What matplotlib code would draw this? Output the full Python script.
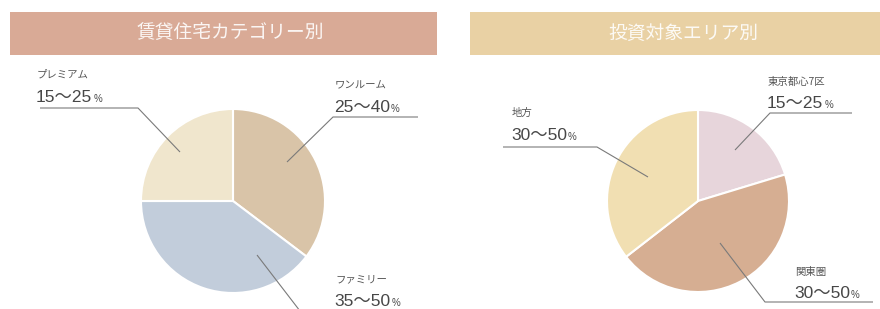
import matplotlib.pyplot as plt
from matplotlib.patches import Rectangle

plt.rcParams['font.family'] = ['Noto Sans CJK JP', 'DejaVu Sans']

W, H = 880, 309

# 賃貸住宅カテゴリー別
cat_title = '賃貸住宅カテゴリー別'
cat_names = ['ワンルーム', 'ファミリー', 'プレミアム']
cat_ranges = ['25〜40', '35〜50', '15〜25']
cat_shares = [35.3, 39.7, 25.0]
cat_colors = ['#d9c4a8', '#c2cddb', '#f0e6cd']

# 投資対象エリア別
area_title = '投資対象エリア別'
area_names = ['東京都心7区', '関東圏', '地方']
area_ranges = ['15〜25', '30〜50', '30〜50']
area_shares = [20.3, 44.2, 35.5]
area_colors = ['#e7d5db', '#d6ae92', '#f1dfb2']

fig = plt.figure(figsize=(W / 100, H / 100), dpi=100)
ax = fig.add_axes([0, 0, 1, 1])

num_font = ['Liberation Sans', 'Noto Sans CJK JP']


def Y(y):
    # pixel row (from top) -> data y
    return H - y


def panel(title, bar, bar_color, title_x, center, radius, shares, colors,
          names, ranges, text_pos, leaders):
    x0, x1, y0, y1 = bar
    ax.add_patch(Rectangle((x0, Y(y1)), x1 - x0, y1 - y0,
                           facecolor=bar_color, edgecolor='none'))
    ax.text(title_x, Y((y0 + y1) / 2), title, color='white', alpha=0.9,
            fontsize=13.5, ha='center', va='center')
    ax.pie(shares, colors=colors, startangle=90, counterclock=False,
           center=(center[0], Y(center[1])), radius=radius,
           wedgeprops=dict(edgecolor='white', linewidth=1.5))
    for name, rng, (tx, ty), pts in zip(names, ranges, text_pos, leaders):
        ax.plot([p[0] for p in pts], [Y(p[1]) for p in pts],
                color='#7a7a7a', lw=0.8, solid_capstyle='butt')
        ax.text(tx, Y(ty), name, fontsize=7.5, color='#555555',
                ha='left', va='center')
        t = ax.text(tx - 1, Y(ty + 22), rng, fontsize=12.5, color='#474747',
                    family=num_font, ha='left', va='center')
        percents.append((t, ty + 22))


percents = []

panel(cat_title, (10, 437, 12, 55), '#d9aa96', 230, (233, 201), 92,
      cat_shares, cat_colors, cat_names, cat_ranges,
      [(335, 85), (335, 279), (37, 75)],
      [[(418, 117), (333, 117), (287, 162)],
       [(257, 255), (300, 311), (420, 311)],
       [(40, 108), (138, 108), (180, 152)]])

panel(area_title, (470, 880, 12, 55), '#e9d1a4', 683, (698, 201), 91,
      area_shares, area_colors, area_names, area_ranges,
      [(768, 82), (795, 272), (512, 113)],
      [[(852, 113), (770, 113), (735, 150)],
       [(720, 243), (765, 302), (873, 302)],
       [(503, 147), (597, 147), (648, 177)]])

ax.set_xlim(0, W)
ax.set_ylim(0, H)
ax.set_aspect('auto')
ax.axis('off')

fig.canvas.draw()
inv = ax.transData.inverted()
for t, ty in percents:
    bb = t.get_window_extent()
    x_end = inv.transform((bb.x1, bb.y0))[0]
    ax.text(x_end + 1, Y(ty + 1.5), '%', fontsize=7, color='#4a4a4a',
            family=num_font, ha='left', va='center')

fig.savefig('out.png', dpi=100, facecolor='white')
